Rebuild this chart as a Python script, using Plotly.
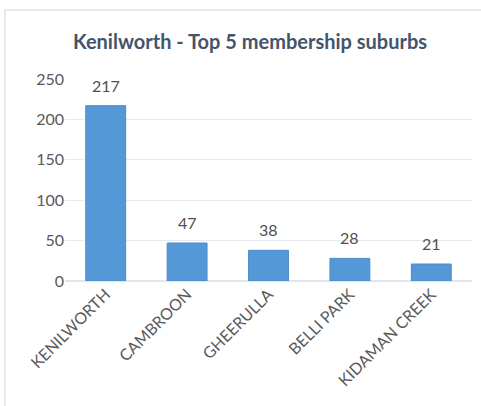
import plotly.graph_objects as go

suburbs = ["KENILWORTH", "CAMBROON", "GHEERULLA", "BELLI PARK", "KIDAMAN CREEK"]
members = [217, 47, 38, 28, 21]
y_ticks = [0, 50, 100, 150, 200, 250]

W, H = 481, 406
L, R, T, B = 65, 9, 79, 125
pw, ph = W - L - R, H - T - B
FONT = "Lato, Open Sans, sans-serif"

fig = go.Figure(go.Bar(
    x=suburbs, y=members,
    marker=dict(color="#5598D8", line=dict(color="#4A8BCB", width=1)),
    width=0.49,
))

for s, v in zip(suburbs, members):
    fig.add_annotation(x=s, y=v, text=str(v), showarrow=False, yanchor="bottom",
                       yshift=9, font=dict(family=FONT, size=16, color="#505050"))

fig.update_layout(
    width=W, height=H,
    margin=dict(l=L, r=R, t=T, b=B),
    paper_bgcolor="white", plot_bgcolor="white",
    showlegend=False,
    title=dict(text="<b>Kenilworth - Top 5 membership suburbs</b>",
               x=(250 - L) / pw, xref="paper", xanchor="center",
               y=1 - 42 / H, yanchor="middle",
               font=dict(family=FONT, size=20, color="#44546A")),
    xaxis=dict(tickangle=-45, showline=False, ticks="",
               tickfont=dict(family=FONT, size=16, color="#595959")),
    yaxis=dict(range=[0, 250], tickvals=y_ticks, showgrid=True, gridcolor="#E6EBF2",
               zeroline=True, zerolinecolor="#E0E6EE", showline=False, ticks="",
               tickfont=dict(family=FONT, size=16, color="#595959")),
    shapes=[dict(type="rect", xref="paper", yref="paper",
                 x0=(5 - L) / pw, x1=(W + 20 - L) / pw,
                 y0=(T + ph - (H + 20)) / ph, y1=(T + ph - 10) / ph,
                 line=dict(color="#DCE3EC", width=1.5), fillcolor="rgba(0,0,0,0)", layer="below")],
)

fig.write_html("out.html")
